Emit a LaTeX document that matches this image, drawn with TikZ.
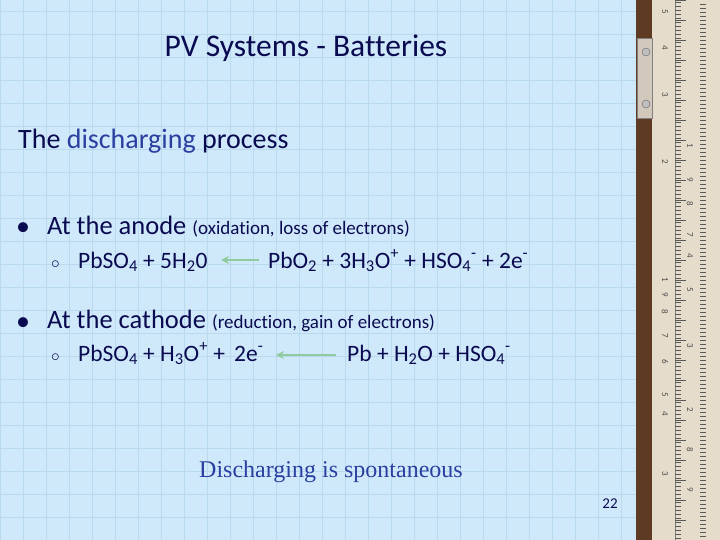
\documentclass[tikz,border=0pt]{standalone}
\usepackage{fontspec}
\usetikzlibrary{arrows.meta}
\setmainfont{Carlito}[Ligatures=NoCommon]
\newfontfamily\tnr{Liberation Serif}
\definecolor{bg}{HTML}{CFE9FA}
\definecolor{gridc}{HTML}{B9D9EE}
\definecolor{dk}{HTML}{0A0A50}
\definecolor{blu}{HTML}{2A3FA0}
\definecolor{arr}{HTML}{8FCB9F}
\definecolor{wood}{HTML}{5E3A22}
\definecolor{ruler}{HTML}{E6DCCB}
\begin{document}
\begin{tikzpicture}[x=1pt,y=-1pt,
  txt/.style={anchor=base west,inner sep=0pt,text=dk},
  gar/.style={draw=arr,line width=2pt,-{Stealth[length=8pt,width=8pt]}}]
\useasboundingbox (0,0) rectangle (720,540);
\fill[bg] (0,0) rectangle (720,540);
\foreach \x in {0,23,...,640} \draw[gridc,line width=0.6pt] (\x,0) -- (\x,540);
\foreach \y in {11,34,...,540} \draw[gridc,line width=0.6pt] (0,\y) -- (636,\y);
% ruler
\fill[wood] (636,0) rectangle (652,540);
\fill[ruler] (652,0) rectangle (720,540);
\draw[gray] (675,0) -- (675,540);
\foreach \y in {2,6,...,540} \draw[gray!70!black,line width=0.3pt] (675,\y) -- (681,\y);
\foreach \y in {0,20,...,540} \draw[gray!70!black,line width=0.4pt] (675,\y) -- (686,\y);
\foreach \y in {4,8,...,540} \draw[gray!70!black,line width=0.3pt] (700,\y) -- (706,\y);
\fill[ruler!80!gray] (637,38) rectangle (652,118);
\draw[gray] (637,38) rectangle (652,118);
\foreach \y in {52,104}\filldraw[fill=gray!50,draw=black!60] (646,\y) circle (4);
\foreach \y/\t in {12/5,48/4,95/3,162/2,280/1,295/9,312/8,336/7,362/6,395/5,414/4,474/3}
  \node[rotate=-90,font=\small,text=black!70] (r\y) at (665,\y) {\t};
\foreach \y/\t in {146/1,180/9,204/8,235/7,256/4,290/5,346/3,410/2,450/8,490/9}
  \node[rotate=-90,font=\small,text=black!70] (s\y) at (690,\y) {\t};
% texts
\node[anchor=base,inner sep=0pt,text=dk,font=\fontsize{31.5}{34}\selectfont] (title) at (306,57) {PV Systems - Batteries};
\node[txt,font=\fontsize{28}{32}\selectfont] (sub) at (18,149) {The \textcolor{blu}{discharging} process};
\node[txt,font=\fontsize{28}{32}\selectfont] (b1) at (16,236) {\textbullet};
\node[txt,font=\fontsize{26.5}{30}\selectfont] (an) at (47,234) {At the anode {\fontsize{19}{22}\selectfont (oxidation, loss of electrons)}};
\node[txt,font=\fontsize{16}{18}\selectfont] (c1) at (51,268) {$\circ$};
\node[txt,font=\fontsize{23.5}{26}\selectfont] (e1l) at (78,268) {PbSO\textsubscript{4} + 5H\textsubscript{2}0};
\node[txt,font=\fontsize{23.5}{26}\selectfont] (e1r) at (268,268) {PbO\textsubscript{2} + 3H\textsubscript{3}O\textsuperscript{+} + HSO\textsubscript{4}\textsuperscript{-} + 2e\textsuperscript{-}};
\node[txt,font=\fontsize{28}{32}\selectfont] (b2) at (16,330) {\textbullet};
\node[txt,font=\fontsize{26.5}{30}\selectfont] (ca) at (47,328) {At the cathode {\fontsize{19}{22}\selectfont (reduction, gain of electrons)}};
\node[txt,font=\fontsize{16}{18}\selectfont] (c2) at (51,361) {$\circ$};
\node[txt,font=\fontsize{23.5}{26}\selectfont] (e2l) at (78,361) {PbSO\textsubscript{4} + H\textsubscript{3}O\textsuperscript{+} +\, 2e\textsuperscript{-}};
\node[txt,font=\fontsize{23.5}{26}\selectfont] (e2r) at (347,361) {Pb + H\textsubscript{2}O + HSO\textsubscript{4}\textsuperscript{-}};
\coordinate (a1s) at (259,260); \coordinate (a1e) at (221,260);
\coordinate (a2s) at (336,355); \coordinate (a2e) at (276,355);
\draw[gar] (a1s) -- (a1e);
\draw[gar] (a2s) -- (a2e);
\node[anchor=base,inner sep=0pt,text=blu,font=\tnr\fontsize{24}{28}\selectfont] (sp) at (331,477) {Discharging is spontaneous};
\node[anchor=base,inner sep=0pt,text=dk,font=\fontsize{15}{17}\selectfont] (pg) at (610,508) {22};
\end{tikzpicture}
\end{document}
